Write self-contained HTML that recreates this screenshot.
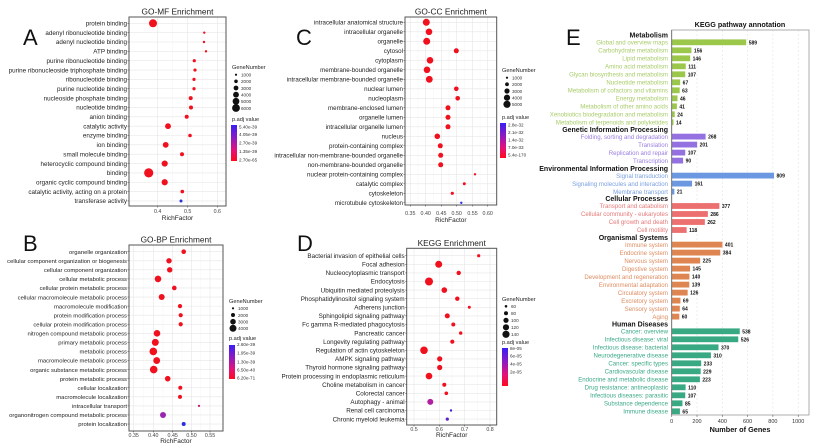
<!DOCTYPE html>
<html><head><meta charset="utf-8">
<style>
html,body{margin:0;padding:0;background:#fff;}
svg{display:block;font-family:"Liberation Sans",sans-serif;}
</style></head>
<body>
<svg id="s" width="817" height="447" viewBox="0 0 817 447" xmlns="http://www.w3.org/2000/svg">
<defs>
<linearGradient id="cb" x1="0" y1="0" x2="0" y2="1">
<stop offset="0" stop-color="#3b1ef2"/><stop offset="0.35" stop-color="#8a1bc4"/><stop offset="0.7" stop-color="#e4117a"/><stop offset="1" stop-color="#ff0a1e"/>
</linearGradient>
</defs>
</svg>
<script>
const S=document.getElementById('s');let h='';
const R='#f0101e';
function t(x,y,s,sz,anc,extra){h+=`<text x="${x}" y="${y}" font-size="${sz}" text-anchor="${anc||'start'}" ${extra||''}>${s}</text>`;}
function panel(c){
 const [x0,y0,x1,y1]=c.box;
 h+=`<rect x="${x0}" y="${y0}" width="${x1-x0}" height="${y1-y0}" fill="#fff"/>`;
 for(let i=0;i<c.ticks.length;i++){const p=c.ticks[i][1];h+=`<line x1="${p}" y1="${y0}" x2="${p}" y2="${y1}" stroke="#e6e6e6" stroke-width="0.6"/>`;
  if(i<c.ticks.length-1){const m=(p+c.ticks[i+1][1])/2;h+=`<line x1="${m}" y1="${y0}" x2="${m}" y2="${y1}" stroke="#f2f2f2" stroke-width="0.4"/>`;}}
 c.rows.forEach((r,i)=>{const y=c.ry+i*c.step;h+=`<line x1="${x0}" y1="${y}" x2="${x1}" y2="${y}" stroke="#e6e6e6" stroke-width="0.6"/>`;});
 c.rows.forEach((r,i)=>{const y=c.ry+i*c.step;
  t(x0-2,y+2.2,r[0],c.fs,'end',`fill="#222" ${c.ff||''}`);
  h+=`<circle cx="${r[1]}" cy="${y}" r="${r[2]}" fill="${r[3]||R}"/>`;
  h+=`<line x1="${x0-1.5}" y1="${y}" x2="${x0}" y2="${y}" stroke="#333" stroke-width="0.5"/>`;});
 h+=`<rect x="${x0}" y="${y0}" width="${x1-x0}" height="${y1-y0}" fill="none" stroke="#555" stroke-width="1"/>`;
 c.ticks.forEach(k=>{h+=`<line x1="${k[1]}" y1="${y1}" x2="${k[1]}" y2="${y1+1.5}" stroke="#333" stroke-width="0.5"/>`;t(k[1],c.ty,k[0],5.3,'middle','fill="#444"');});
 t((x0+x1)/2,c.rfy,'RichFactor',6.5,'middle','fill="#222"');
 t((x0+x1)/2,y0-2.5,c.title,8.3,'middle','fill="#222"');
 t(c.L[0],c.L[1],c.L[2],22,'start','fill="#111"');
 const g=c.leg;
 t(g.x,g.gy,'GeneNumber',5.6,'start','fill="#222"');
 g.items.forEach(it=>{h+=`<circle cx="${g.dx}" cy="${it[1]}" r="${it[2]}" fill="#111"/>`;t(g.dx+5,it[1]+1.8,it[0],4.6,'start','fill="#333"');});
 t(g.x,g.py,'p.adj value',5.6,'start','fill="#222"');
 h+=`<rect x="${g.cx}" y="${g.cy0}" width="6" height="${g.cy1-g.cy0}" fill="url(#cb)"/>`;
 g.cl.forEach(l=>t(g.cx+8,l[1]+1.6,l[0],4.6,'start','fill="#333"'));
}
panel({box:[129,17,226,206],title:'GO-MF Enrichment',ry:23.3,step:9.35,fs:6.3,ty:213,rfy:220,L:[23,45,'A'],
ticks:[['0.4',157.7],['0.5',187.7],['0.6',217.3]],
rows:[['protein binding',153,4],['adenyl ribonucleotide binding',204.3,1.2],['adenyl nucleotide binding',204,1.2],['ATP binding',206,1.2],['purine ribonucleotide binding',194.3,1.6],['purine ribonucleoside triphosphate binding',195,1.6],['ribonucleotide binding',194,1.6],['purine nucleotide binding',194,1.6],['nucleoside phosphate binding',190.7,2],['nucleotide binding',191,2],['anion binding',186.7,2],['catalytic activity',168,2.9],['enzyme binding',190,1.8],['ion binding',165.7,2.9],['small molecule binding',182,2],['heterocyclic compound binding',164.7,3.1],['binding',148.7,4.6],['organic cyclic compound binding',164.7,3.1],['catalytic activity, acting on a protein',182.3,1.8],['transferase activity',181,1.5,'#2c2ee0']],
leg:{x:232,gy:69,dx:236,items:[['1000',74.7,1.1],['2000',81.3,1.8],['3000',88,2.4],['4000',94.7,2.9],['5000',101.3,3.4],['6000',108,3.9]],py:121,cx:231,cy0:125,cy1:161,cl:[['5.40e-39',126.7],['4.05e-39',134.5],['2.70e-39',143],['1.35e-39',151.5],['2.70e-65',160]]}});
panel({box:[129,245,223,431],title:'GO-BP Enrichment',ry:251.7,step:9.07,fs:5.9,ty:437,rfy:443,L:[23,251,'B'],
ticks:[['0.35',133.7],['0.40',153.3],['0.45',172.7],['0.50',191.5],['0.55',210]],
rows:[['organelle organization',183.7,2.3],['cellular component organization or biogenesis',169,2.7],['cellular component organization',169.7,2.7],['cellular metabolic process',158,3.3],['cellular protein metabolic process',174.3,2.3],['cellular macromolecule metabolic process',161.7,3],['macromolecule modification',180,2.1],['protein modification process',180.7,2.1],['cellular protein modification process',180.7,2.1],['nitrogen compound metabolic process',157,3.3],['primary metabolic process',155.3,3.5],['metabolic process',153.3,3.8],['macromolecule metabolic process',156.7,3.4],['organic substance metabolic process',153.7,3.8],['protein metabolic process',167.7,2.8],['cellular localization',180.3,2],['macromolecule localization',180,2],['intracellular transport',199,1.1,'#c0186a'],['organonitrogen compound metabolic process',163,3,'#9a26b0'],['protein localization',183.7,2,'#2a2ee6']],
leg:{x:229,gy:303,dx:233,items:[['1000',308.3,1.1],['2000',315,2],['3000',321.7,2.8],['4000',328.3,3.5]],py:340,cx:229,cy0:345,cy1:379,cl:[['2.60e-39',344.5],['1.95e-39',353],['1.30e-39',361.7],['6.50e-40',370],['6.20e-71',378]]}});
panel({box:[405,17,496.7,205],title:'GO-CC Enrichment',ry:22.3,step:9.5,fs:6.2,ty:215,rfy:222,L:[296,45,'C'],
ticks:[['0.35',410.3],['0.40',425.7],['0.45',441.3],['0.50',456.7],['0.55',472.5],['0.60',487.7]],
rows:[['intracellular anatomical structure',426.3,3.5],['intracellular organelle',429,3.3],['organelle',426.7,3.5],['cytosol',456.3,2.5],['cytoplasm',430,3.3],['membrane-bounded organelle',427,3.3],['intracellular membrane-bounded organelle',429.3,3.4],['nuclear lumen',456.3,2.3],['nucleoplasm',457.7,2.3],['membrane-enclosed lumen',448,2.5],['organelle lumen',448,2.5],['intracellular organelle lumen',448,2.5],['nucleus',437.3,2.8],['protein-containing complex',440.3,2.5],['intracellular non-membrane-bounded organelle',440.7,2.5],['non-membrane-bounded organelle',440.7,2.5],['nuclear protein-containing complex',475,1.2],['catalytic complex',464.3,1.5],['cytoskeleton',452.3,1.6],['microtubule cytoskeleton',461.3,1.2,'#2a2ee6']],
leg:{x:502,gy:72,dx:507,items:[['1000',77.7,1.1],['2000',84.3,1.9],['3000',91,2.6],['4000',97.7,3.1],['5000',104.3,3.6]],py:119,cx:500,cy0:123,cy1:158,cl:[['2.8e-32',124.7],['2.1e-32',132.3],['1.4e-32',139.7],['7.0e-33',147.3],['5.4e-170',155]]}});
panel({box:[406.7,248.3,496.7,425],title:'KEGG Enrichment',ry:255.7,step:8.6,fs:6.3,ff:'font-family="Liberation Sans Narrow, Liberation Sans, sans-serif"',ty:431,rfy:437,L:[297,251,'D'],
ticks:[['0.5',414],['0.6',439.3],['0.7',464.7],['0.8',490]],
rows:[['Bacterial invasion of epithelial cells',478.7,1.6],['Focal adhesion',438.7,3.5],['Nucleocytoplasmic transport',458.7,2.2],['Endocytosis',429,4],['Ubiquitin mediated proteolysis',444.3,2.8],['Phosphatidylinositol signaling system',457.3,2.2],['Adherens junction',469.3,1.5],['Sphingolipid signaling pathway',447.3,2.5],['Fc gamma R-mediated phagocytosis',453.3,2],['Pancreatic cancer',460.7,1.7],['Longevity regulating pathway',452.3,2.1],['Regulation of actin cytoskeleton',424,3.8],['AMPK signaling pathway',439.7,2.6],['Thyroid hormone signaling pathway',439.7,2.6],['Protein processing in endoplasmic reticulum',429,3.3],['Choline metabolism in cancer',444.3,2],['Colorectal cancer',446.3,1.8],['Autophagy - animal',430.3,3,'#b01fa0'],['Renal cell carcinoma',451,1.2,'#4424d8'],['Chronic myeloid leukemia',447.3,1.6,'#5a22c8']],
leg:{x:502,gy:301,dx:506,items:[['60',306.3,1.3],['80',313.3,2],['100',320.3,2.6],['120',327.3,3.1],['140',334.3,3.6]],py:344,cx:502,cy0:348,cy1:386,cl:[['8e-05',348.3],['6e-05',356],['4e-05',364],['2e-05',372]]}});
const ex0=671.7,sc=0.1265,ey0=30,ey1=415;
t(566,45,'E',22,'start','fill="#111"');
t(740,27,'KEGG pathway annotation',7.2,'middle','font-weight="bold" fill="#111"');
h+=`<rect x="${ex0}" y="${ey0}" width="${809-ex0}" height="${ey1-ey0}" fill="#fff"/>`;
[200,400,600,800,1000].forEach(v=>{const x=ex0+v*sc;h+=`<line x1="${x}" y1="${ey0}" x2="${x}" y2="${ey1}" stroke="#ddd" stroke-width="0.5" stroke-dasharray="2,2"/>`;});
const groups=[
['Metabolism',35,'#9bc84b','#a9cc6a',[['Global and overview maps',589],['Carbohydrate metabolism',156],['Lipid metabolism',146],['Amino acid metabolism',111],['Glycan biosynthesis and metabolism',107],['Nucleotide metabolism',67],['Metabolism of cofactors and vitamins',63],['Energy metabolism',46],['Metabolism of other amino acids',41],['Xenobiotics biodegradation and metabolism',24],['Metabolism of terpenoids and polyketides',14]]],
['Genetic Information Processing',129.3,'#9471e0','#9a7ee0',[['Folding, sorting and degradation',268],['Translation',201],['Replication and repair',107],['Transcription',90]]],
['Environmental Information Processing',168.3,'#6b98e0','#7aa0e0',[['Signal transduction',809],['Signaling molecules and interaction',161],['Membrane transport',21]]],
['Cellular Processes',198.7,'#ec7070','#e67878',[['Transport and catabolism',377],['Cellular community - eukaryotes',286],['Cell growth and death',262],['Cell motility',118]]],
['Organismal Systems',237.3,'#de8552','#dd8c60',[['Immune system',401],['Endocrine system',384],['Nervous system',225],['Digestive system',145],['Development and regeneration',140],['Environmental adaptation',139],['Circulatory system',126],['Excretory system',69],['Sensory system',64],['Aging',60]]],
['Human Diseases',324,'#38a983','#3aa886',[['Cancer: overview',538],['Infectious disease: viral',526],['Infectious disease: bacterial',370],['Neurodegenerative disease',310],['Cancer: specific types',233],['Cardiovascular disease',229],['Endocrine and metabolic disease',223],['Drug resistance: antineoplastic',110],['Infectious diseases: parasitic',107],['Substance dependence',85],['Immune disease',65]]]];
groups.forEach(g=>{
 t(668,g[1]+2.5,g[0],7,'end','font-weight="bold" fill="#111"');
 g[4].forEach((r,i)=>{const y=g[1]+7.3+i*8;const w=r[1]*sc;
  t(668,y+2.2,r[0],6.1,'end',`fill="${g[3]}"`);
  h+=`<rect x="${ex0}" y="${y-2.9}" width="${w}" height="5.8" fill="${g[2]}"/>`;
  t(ex0+w+2.5,y+2,r[1],5,'start','font-weight="bold" fill="#111"');});
});
h+=`<rect x="${ex0}" y="${ey0}" width="${809-ex0}" height="${ey1-ey0}" fill="none" stroke="#999" stroke-width="0.8"/>`;
h+=`<line x1="${ex0}" y1="${ey0}" x2="${ex0}" y2="${ey1}" stroke="#666" stroke-width="0.8"/>`;
[0,200,400,600,800,1000].forEach(v=>{const x=ex0+v*sc;h+=`<line x1="${x}" y1="${ey1}" x2="${x}" y2="${ey1+2}" stroke="#444" stroke-width="0.5"/>`;t(x,423,v,5.5,'middle','fill="#333"');});
t(740,432,'Number of Genes',7.3,'middle','font-weight="bold" fill="#111"');
S.insertAdjacentHTML('beforeend',h);
</script>
</body></html>
